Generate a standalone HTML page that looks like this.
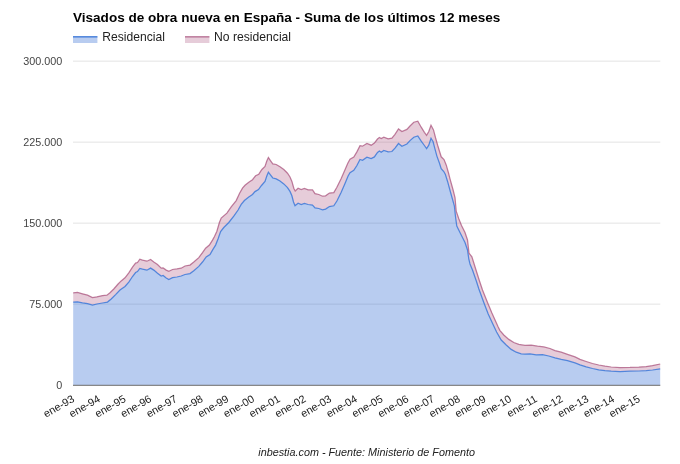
<!DOCTYPE html>
<html><head><meta charset="utf-8"><title>Visados de obra nueva en España</title>
<style>
html,body{margin:0;padding:0;background:#fff;}
svg{display:block;font-family:"Liberation Sans",Arial,sans-serif;}
</style></head><body>
<svg width="680" height="464" viewBox="0 0 680 464">
<rect width="680" height="464" fill="#fff"/>
<text x="73" y="21.5" font-size="13.55" font-weight="bold" fill="#000">Visados de obra nueva en España - Suma de los últimos 12 meses</text>
<g>
<rect x="73" y="36.2" width="24.4" height="6.8" fill="#3a73d6" fill-opacity="0.36"/>
<rect x="73" y="36.2" width="24.4" height="1.3" fill="#3c78d8"/>
<text x="102.3" y="40.8" font-size="12.1" fill="#222">Residencial</text>
<rect x="185" y="36.2" width="24.4" height="6.8" fill="#a64d79" fill-opacity="0.285"/>
<rect x="185" y="36.2" width="24.4" height="1.3" fill="#a64d79" fill-opacity="0.75"/>
<text x="214.1" y="40.8" font-size="12.15" fill="#222">No residencial</text>
</g>
<g stroke="#e3e3e3" stroke-width="1">
<line x1="73" x2="660.3" y1="61.15" y2="61.15"/>
<line x1="73" x2="660.3" y1="142.15" y2="142.15"/>
<line x1="73" x2="660.3" y1="223.15" y2="223.15"/>
<line x1="73" x2="660.3" y1="304.15" y2="304.15"/>
</g>
<path d="M73.2,302.1 L77.5,301.8 L82.5,302.8 L87.5,303.6 L92.5,305.0 L96.9,304.0 L102.5,303.0 L107.5,302.1 L111.2,299.0 L115.6,294.6 L120.0,290.0 L125.0,286.5 L128.8,282.1 L132.5,276.5 L135.6,272.5 L137.5,271.5 L139.8,268.4 L142.5,269.2 L146.9,270.2 L150.6,268.1 L153.8,270.1 L157.5,273.2 L161.2,276.0 L163.1,275.5 L166.2,278.0 L168.8,279.5 L172.5,277.6 L176.9,277.0 L181.2,276.0 L185.0,274.5 L190.0,273.6 L193.8,270.8 L198.8,266.4 L202.5,262.0 L206.2,257.0 L210.0,254.5 L212.5,250.1 L215.6,245.1 L218.1,238.8 L220.6,231.6 L223.8,227.5 L228.8,222.5 L233.8,216.2 L238.1,210.0 L241.2,204.4 L244.4,200.5 L248.8,197.0 L252.5,194.5 L255.0,191.6 L258.5,189.6 L261.5,185.5 L265.0,181.4 L266.9,175.8 L268.4,172.2 L270.6,175.1 L272.8,178.0 L276.2,178.9 L280.0,181.0 L283.8,183.9 L287.5,187.6 L290.0,191.4 L291.9,195.8 L293.5,202.0 L295.0,205.8 L298.1,203.2 L301.2,204.5 L304.4,203.5 L308.1,204.5 L312.5,205.1 L315.0,207.8 L318.8,208.5 L322.5,209.8 L325.6,209.1 L329.4,206.6 L333.8,205.8 L336.9,201.0 L341.2,192.2 L345.0,183.5 L348.1,176.0 L350.0,172.6 L353.8,170.4 L356.9,165.5 L360.0,159.5 L362.5,160.3 L366.9,157.2 L371.2,158.6 L374.4,156.9 L377.5,152.5 L379.4,151.0 L381.2,152.2 L383.8,150.4 L388.1,151.9 L391.9,151.5 L395.0,148.1 L398.5,143.5 L401.9,146.2 L406.9,144.0 L410.0,140.6 L413.8,137.2 L417.8,135.9 L421.2,141.2 L424.4,145.5 L426.6,148.6 L428.8,145.2 L431.0,138.2 L433.1,141.8 L435.0,149.2 L436.9,156.1 L439.4,163.0 L441.2,168.6 L443.8,171.5 L445.4,174.5 L447.5,181.2 L450.6,192.5 L454.4,206.2 L455.6,217.5 L456.8,226.0 L460.6,233.8 L465.0,242.5 L467.5,250.0 L468.8,258.8 L470.0,264.0 L472.5,270.0 L476.5,281.5 L478.8,288.8 L483.8,302.5 L488.1,313.8 L493.3,325.0 L496.6,332.0 L501.2,340.0 L506.2,345.0 L511.2,349.4 L516.2,352.2 L521.2,353.8 L525.0,354.0 L530.0,353.8 L536.2,354.8 L542.5,354.6 L548.8,356.0 L555.0,357.8 L561.2,359.4 L567.5,360.6 L575.0,362.9 L580.0,364.8 L586.2,366.9 L592.5,368.5 L598.8,369.8 L605.0,370.6 L611.2,371.2 L620.0,371.6 L630.0,371.2 L638.8,371.0 L646.2,370.6 L652.5,370.0 L660.2,368.8 L660.2,385 L73.2,385 Z" fill="#3a73d6" fill-opacity="0.36"/>
<path d="M73.2,292.8 L77.5,292.5 L82.5,293.8 L87.5,295.2 L92.5,297.5 L96.9,296.8 L102.5,295.6 L106.9,295.2 L110.0,292.8 L113.8,289.0 L118.1,284.0 L121.2,280.9 L125.0,277.8 L128.8,272.8 L132.5,267.1 L135.6,263.1 L137.5,262.5 L139.8,259.2 L142.5,260.2 L146.9,261.2 L150.6,259.4 L153.8,262.0 L157.5,264.5 L161.2,268.2 L163.1,267.9 L166.2,270.1 L168.8,271.4 L172.5,269.5 L176.9,268.9 L181.2,268.2 L185.0,266.0 L190.0,265.1 L193.8,262.0 L198.8,257.6 L202.5,252.6 L205.6,248.2 L209.4,245.1 L212.5,240.1 L214.5,236.5 L216.9,231.2 L219.4,222.5 L221.2,218.1 L226.9,213.1 L231.2,206.9 L236.2,200.6 L239.6,193.2 L242.5,188.1 L245.0,185.3 L248.8,182.2 L252.5,179.7 L255.6,175.8 L258.8,174.2 L261.9,169.5 L265.0,166.4 L266.9,160.8 L268.4,157.6 L270.6,160.8 L272.8,163.9 L276.2,164.5 L280.0,166.8 L283.8,169.5 L287.5,173.2 L290.0,177.0 L291.9,181.4 L293.8,188.2 L295.2,191.0 L298.1,188.2 L301.2,189.5 L304.4,188.5 L308.1,189.8 L312.5,189.9 L315.0,193.6 L318.8,194.5 L322.5,196.2 L325.6,195.8 L329.4,193.1 L333.8,192.6 L336.9,187.2 L341.2,178.5 L345.0,169.8 L347.8,163.3 L350.0,159.2 L353.8,157.0 L356.9,151.9 L360.0,145.6 L362.5,146.2 L366.9,143.5 L371.2,145.2 L374.4,143.1 L377.5,139.0 L379.4,137.5 L381.2,138.5 L383.8,137.2 L388.1,138.8 L391.9,138.1 L395.0,134.4 L398.5,129.0 L401.9,131.6 L406.9,129.4 L410.0,126.0 L413.8,122.2 L417.8,121.2 L421.2,127.2 L424.4,132.3 L426.6,135.4 L428.8,131.5 L431.0,125.2 L433.5,129.9 L435.6,138.0 L438.1,146.8 L441.2,156.8 L444.0,159.5 L446.2,164.9 L448.5,173.0 L450.0,178.8 L453.1,190.0 L455.0,197.5 L456.2,211.2 L458.8,218.8 L461.5,225.5 L465.0,232.5 L467.5,240.0 L469.0,253.1 L471.9,256.9 L475.6,268.8 L479.5,281.0 L482.5,290.0 L487.5,302.5 L491.9,313.1 L495.6,321.2 L498.2,327.0 L500.0,330.6 L503.8,335.0 L508.8,339.4 L513.8,342.5 L518.8,344.4 L525.0,345.4 L531.2,345.2 L537.5,346.2 L543.8,346.9 L550.0,348.5 L555.0,350.6 L561.2,352.2 L567.5,354.4 L575.0,356.9 L580.0,359.4 L586.2,361.5 L592.5,363.5 L598.8,365.0 L605.0,366.2 L611.2,367.0 L620.0,367.5 L630.0,367.4 L638.8,367.1 L646.2,366.6 L652.5,365.6 L660.2,364.0 L660.2,368.8 L652.5,370.0 L646.2,370.6 L638.8,371.0 L630.0,371.2 L620.0,371.6 L611.2,371.2 L605.0,370.6 L598.8,369.8 L592.5,368.5 L586.2,366.9 L580.0,364.8 L575.0,362.9 L567.5,360.6 L561.2,359.4 L555.0,357.8 L548.8,356.0 L542.5,354.6 L536.2,354.8 L530.0,353.8 L525.0,354.0 L521.2,353.8 L516.2,352.2 L511.2,349.4 L506.2,345.0 L501.2,340.0 L496.6,332.0 L493.3,325.0 L488.1,313.8 L483.8,302.5 L478.8,288.8 L476.5,281.5 L472.5,270.0 L470.0,264.0 L468.8,258.8 L467.5,250.0 L465.0,242.5 L460.6,233.8 L456.8,226.0 L455.6,217.5 L454.4,206.2 L450.6,192.5 L447.5,181.2 L445.4,174.5 L443.8,171.5 L441.2,168.6 L439.4,163.0 L436.9,156.1 L435.0,149.2 L433.1,141.8 L431.0,138.2 L428.8,145.2 L426.6,148.6 L424.4,145.5 L421.2,141.2 L417.8,135.9 L413.8,137.2 L410.0,140.6 L406.9,144.0 L401.9,146.2 L398.5,143.5 L395.0,148.1 L391.9,151.5 L388.1,151.9 L383.8,150.4 L381.2,152.2 L379.4,151.0 L377.5,152.5 L374.4,156.9 L371.2,158.6 L366.9,157.2 L362.5,160.3 L360.0,159.5 L356.9,165.5 L353.8,170.4 L350.0,172.6 L348.1,176.0 L345.0,183.5 L341.2,192.2 L336.9,201.0 L333.8,205.8 L329.4,206.6 L325.6,209.1 L322.5,209.8 L318.8,208.5 L315.0,207.8 L312.5,205.1 L308.1,204.5 L304.4,203.5 L301.2,204.5 L298.1,203.2 L295.0,205.8 L293.5,202.0 L291.9,195.8 L290.0,191.4 L287.5,187.6 L283.8,183.9 L280.0,181.0 L276.2,178.9 L272.8,178.0 L270.6,175.1 L268.4,172.2 L266.9,175.8 L265.0,181.4 L261.5,185.5 L258.5,189.6 L255.0,191.6 L252.5,194.5 L248.8,197.0 L244.4,200.5 L241.2,204.4 L238.1,210.0 L233.8,216.2 L228.8,222.5 L223.8,227.5 L220.6,231.6 L218.1,238.8 L215.6,245.1 L212.5,250.1 L210.0,254.5 L206.2,257.0 L202.5,262.0 L198.8,266.4 L193.8,270.8 L190.0,273.6 L185.0,274.5 L181.2,276.0 L176.9,277.0 L172.5,277.6 L168.8,279.5 L166.2,278.0 L163.1,275.5 L161.2,276.0 L157.5,273.2 L153.8,270.1 L150.6,268.1 L146.9,270.2 L142.5,269.2 L139.8,268.4 L137.5,271.5 L135.6,272.5 L132.5,276.5 L128.8,282.1 L125.0,286.5 L120.0,290.0 L115.6,294.6 L111.2,299.0 L107.5,302.1 L102.5,303.0 L96.9,304.0 L92.5,305.0 L87.5,303.6 L82.5,302.8 L77.5,301.8 L73.2,302.1 Z" fill="#a64d79" fill-opacity="0.285"/>
<path d="M73.2,302.1 L77.5,301.8 L82.5,302.8 L87.5,303.6 L92.5,305.0 L96.9,304.0 L102.5,303.0 L107.5,302.1 L111.2,299.0 L115.6,294.6 L120.0,290.0 L125.0,286.5 L128.8,282.1 L132.5,276.5 L135.6,272.5 L137.5,271.5 L139.8,268.4 L142.5,269.2 L146.9,270.2 L150.6,268.1 L153.8,270.1 L157.5,273.2 L161.2,276.0 L163.1,275.5 L166.2,278.0 L168.8,279.5 L172.5,277.6 L176.9,277.0 L181.2,276.0 L185.0,274.5 L190.0,273.6 L193.8,270.8 L198.8,266.4 L202.5,262.0 L206.2,257.0 L210.0,254.5 L212.5,250.1 L215.6,245.1 L218.1,238.8 L220.6,231.6 L223.8,227.5 L228.8,222.5 L233.8,216.2 L238.1,210.0 L241.2,204.4 L244.4,200.5 L248.8,197.0 L252.5,194.5 L255.0,191.6 L258.5,189.6 L261.5,185.5 L265.0,181.4 L266.9,175.8 L268.4,172.2 L270.6,175.1 L272.8,178.0 L276.2,178.9 L280.0,181.0 L283.8,183.9 L287.5,187.6 L290.0,191.4 L291.9,195.8 L293.5,202.0 L295.0,205.8 L298.1,203.2 L301.2,204.5 L304.4,203.5 L308.1,204.5 L312.5,205.1 L315.0,207.8 L318.8,208.5 L322.5,209.8 L325.6,209.1 L329.4,206.6 L333.8,205.8 L336.9,201.0 L341.2,192.2 L345.0,183.5 L348.1,176.0 L350.0,172.6 L353.8,170.4 L356.9,165.5 L360.0,159.5 L362.5,160.3 L366.9,157.2 L371.2,158.6 L374.4,156.9 L377.5,152.5 L379.4,151.0 L381.2,152.2 L383.8,150.4 L388.1,151.9 L391.9,151.5 L395.0,148.1 L398.5,143.5 L401.9,146.2 L406.9,144.0 L410.0,140.6 L413.8,137.2 L417.8,135.9 L421.2,141.2 L424.4,145.5 L426.6,148.6 L428.8,145.2 L431.0,138.2 L433.1,141.8 L435.0,149.2 L436.9,156.1 L439.4,163.0 L441.2,168.6 L443.8,171.5 L445.4,174.5 L447.5,181.2 L450.6,192.5 L454.4,206.2 L455.6,217.5 L456.8,226.0 L460.6,233.8 L465.0,242.5 L467.5,250.0 L468.8,258.8 L470.0,264.0 L472.5,270.0 L476.5,281.5 L478.8,288.8 L483.8,302.5 L488.1,313.8 L493.3,325.0 L496.6,332.0 L501.2,340.0 L506.2,345.0 L511.2,349.4 L516.2,352.2 L521.2,353.8 L525.0,354.0 L530.0,353.8 L536.2,354.8 L542.5,354.6 L548.8,356.0 L555.0,357.8 L561.2,359.4 L567.5,360.6 L575.0,362.9 L580.0,364.8 L586.2,366.9 L592.5,368.5 L598.8,369.8 L605.0,370.6 L611.2,371.2 L620.0,371.6 L630.0,371.2 L638.8,371.0 L646.2,370.6 L652.5,370.0 L660.2,368.8" fill="none" stroke="#3c78d8" stroke-width="1.25" stroke-opacity="0.85"/>
<path d="M73.2,292.8 L77.5,292.5 L82.5,293.8 L87.5,295.2 L92.5,297.5 L96.9,296.8 L102.5,295.6 L106.9,295.2 L110.0,292.8 L113.8,289.0 L118.1,284.0 L121.2,280.9 L125.0,277.8 L128.8,272.8 L132.5,267.1 L135.6,263.1 L137.5,262.5 L139.8,259.2 L142.5,260.2 L146.9,261.2 L150.6,259.4 L153.8,262.0 L157.5,264.5 L161.2,268.2 L163.1,267.9 L166.2,270.1 L168.8,271.4 L172.5,269.5 L176.9,268.9 L181.2,268.2 L185.0,266.0 L190.0,265.1 L193.8,262.0 L198.8,257.6 L202.5,252.6 L205.6,248.2 L209.4,245.1 L212.5,240.1 L214.5,236.5 L216.9,231.2 L219.4,222.5 L221.2,218.1 L226.9,213.1 L231.2,206.9 L236.2,200.6 L239.6,193.2 L242.5,188.1 L245.0,185.3 L248.8,182.2 L252.5,179.7 L255.6,175.8 L258.8,174.2 L261.9,169.5 L265.0,166.4 L266.9,160.8 L268.4,157.6 L270.6,160.8 L272.8,163.9 L276.2,164.5 L280.0,166.8 L283.8,169.5 L287.5,173.2 L290.0,177.0 L291.9,181.4 L293.8,188.2 L295.2,191.0 L298.1,188.2 L301.2,189.5 L304.4,188.5 L308.1,189.8 L312.5,189.9 L315.0,193.6 L318.8,194.5 L322.5,196.2 L325.6,195.8 L329.4,193.1 L333.8,192.6 L336.9,187.2 L341.2,178.5 L345.0,169.8 L347.8,163.3 L350.0,159.2 L353.8,157.0 L356.9,151.9 L360.0,145.6 L362.5,146.2 L366.9,143.5 L371.2,145.2 L374.4,143.1 L377.5,139.0 L379.4,137.5 L381.2,138.5 L383.8,137.2 L388.1,138.8 L391.9,138.1 L395.0,134.4 L398.5,129.0 L401.9,131.6 L406.9,129.4 L410.0,126.0 L413.8,122.2 L417.8,121.2 L421.2,127.2 L424.4,132.3 L426.6,135.4 L428.8,131.5 L431.0,125.2 L433.5,129.9 L435.6,138.0 L438.1,146.8 L441.2,156.8 L444.0,159.5 L446.2,164.9 L448.5,173.0 L450.0,178.8 L453.1,190.0 L455.0,197.5 L456.2,211.2 L458.8,218.8 L461.5,225.5 L465.0,232.5 L467.5,240.0 L469.0,253.1 L471.9,256.9 L475.6,268.8 L479.5,281.0 L482.5,290.0 L487.5,302.5 L491.9,313.1 L495.6,321.2 L498.2,327.0 L500.0,330.6 L503.8,335.0 L508.8,339.4 L513.8,342.5 L518.8,344.4 L525.0,345.4 L531.2,345.2 L537.5,346.2 L543.8,346.9 L550.0,348.5 L555.0,350.6 L561.2,352.2 L567.5,354.4 L575.0,356.9 L580.0,359.4 L586.2,361.5 L592.5,363.5 L598.8,365.0 L605.0,366.2 L611.2,367.0 L620.0,367.5 L630.0,367.4 L638.8,367.1 L646.2,366.6 L652.5,365.6 L660.2,364.0" fill="none" stroke="#a64d79" stroke-width="1.25" stroke-opacity="0.72"/>
<line x1="73" x2="660.3" y1="385.3" y2="385.3" stroke="#6a6a6a" stroke-width="1"/>
<g font-size="10.8" fill="#444" text-anchor="end">
<text x="62.3" y="64.7">300.000</text>
<text x="62.3" y="145.7">225.000</text>
<text x="62.3" y="226.7">150.000</text>
<text x="62.3" y="307.7">75.000</text>
<text x="62.3" y="388.7">0</text>
</g>
<g font-size="10.8" fill="#222">
<text x="75.2" y="401" transform="rotate(-30 75.2 401)" text-anchor="end">ene-93</text>
<text x="100.9" y="401" transform="rotate(-30 100.9 401)" text-anchor="end">ene-94</text>
<text x="126.6" y="401" transform="rotate(-30 126.6 401)" text-anchor="end">ene-95</text>
<text x="152.3" y="401" transform="rotate(-30 152.3 401)" text-anchor="end">ene-96</text>
<text x="178.0" y="401" transform="rotate(-30 178.0 401)" text-anchor="end">ene-97</text>
<text x="203.8" y="401" transform="rotate(-30 203.8 401)" text-anchor="end">ene-98</text>
<text x="229.5" y="401" transform="rotate(-30 229.5 401)" text-anchor="end">ene-99</text>
<text x="255.2" y="401" transform="rotate(-30 255.2 401)" text-anchor="end">ene-00</text>
<text x="280.9" y="401" transform="rotate(-30 280.9 401)" text-anchor="end">ene-01</text>
<text x="306.6" y="401" transform="rotate(-30 306.6 401)" text-anchor="end">ene-02</text>
<text x="332.3" y="401" transform="rotate(-30 332.3 401)" text-anchor="end">ene-03</text>
<text x="358.0" y="401" transform="rotate(-30 358.0 401)" text-anchor="end">ene-04</text>
<text x="383.7" y="401" transform="rotate(-30 383.7 401)" text-anchor="end">ene-05</text>
<text x="409.5" y="401" transform="rotate(-30 409.5 401)" text-anchor="end">ene-06</text>
<text x="435.2" y="401" transform="rotate(-30 435.2 401)" text-anchor="end">ene-07</text>
<text x="460.9" y="401" transform="rotate(-30 460.9 401)" text-anchor="end">ene-08</text>
<text x="486.6" y="401" transform="rotate(-30 486.6 401)" text-anchor="end">ene-09</text>
<text x="512.3" y="401" transform="rotate(-30 512.3 401)" text-anchor="end">ene-10</text>
<text x="538.0" y="401" transform="rotate(-30 538.0 401)" text-anchor="end">ene-11</text>
<text x="563.7" y="401" transform="rotate(-30 563.7 401)" text-anchor="end">ene-12</text>
<text x="589.4" y="401" transform="rotate(-30 589.4 401)" text-anchor="end">ene-13</text>
<text x="615.2" y="401" transform="rotate(-30 615.2 401)" text-anchor="end">ene-14</text>
<text x="640.9" y="401" transform="rotate(-30 640.9 401)" text-anchor="end">ene-15</text>
</g>
<text x="366.6" y="455.7" font-size="10.8" font-style="italic" fill="#222" text-anchor="middle">inbestia.com - Fuente: Ministerio de Fomento</text>
</svg>
</body></html>
